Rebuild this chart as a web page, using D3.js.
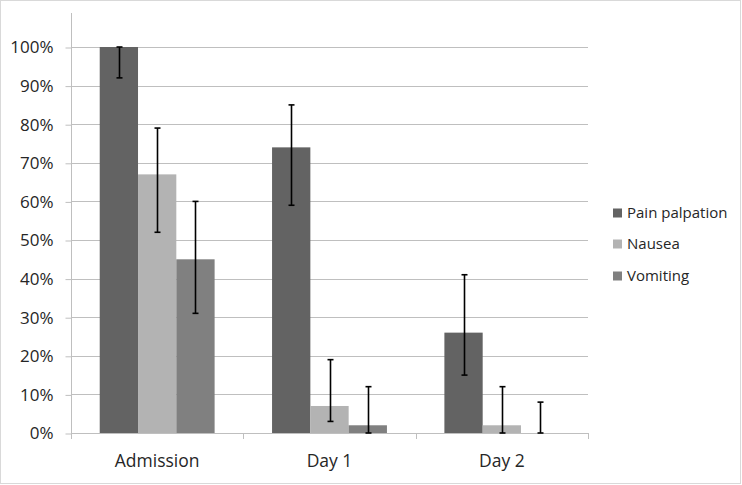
<!DOCTYPE html>
<html><head><meta charset="utf-8">
<script src="https://cdn.jsdelivr.net/npm/d3@7"></script>
<style>body{margin:0;background:#fff;}svg{display:block;}</style>
</head><body>
<script>
const categories = ["Admission", "Day 1", "Day 2"];
const seriesNames = ["Pain palpation", "Nausea", "Vomiting"];
const painValues = [100, 74, 26];
const nauseaValues = [67, 7, 2];
const vomitingValues = [45, 2, 0];
const painErrLow = [92, 59, 15];
const painErrHigh = [100, 85, 41];
const nauseaErrLow = [52, 3, 0];
const nauseaErrHigh = [79, 19, 12];
const vomitingErrLow = [31, 0, 0];
const vomitingErrHigh = [60, 12, 8];
const yTicks = [0, 10, 20, 30, 40, 50, 60, 70, 80, 90, 100];
const colors = ["#636363", "#b3b3b3", "#808080"];

const series = [
  {name: seriesNames[0], values: painValues, lo: painErrLow, hi: painErrHigh, color: colors[0]},
  {name: seriesNames[1], values: nauseaValues, lo: nauseaErrLow, hi: nauseaErrHigh, color: colors[1]},
  {name: seriesNames[2], values: vomitingValues, lo: vomitingErrLow, hi: vomitingErrHigh, color: colors[2]}
];

const W = 742, H = 485;
const left = 71, right = 588, top0 = 47, bottom = 433;
const font = "Open Sans, sans-serif";
const txt = "#262626";
const svg = d3.select("body").append("svg").attr("width", W).attr("height", H);
svg.append("rect").attr("x", 0.5).attr("y", 0.5).attr("width", W - 2).attr("height", H - 2)
  .attr("fill", "#fff").attr("stroke", "#d9d9d9");

const y = d3.scaleLinear().domain([0, 100]).range([bottom, top0]);
const x0 = d3.scaleBand().domain(categories).range([left, right]).paddingInner(0).paddingOuter(0);
const x1 = d3.scaleBand().domain(seriesNames).range([0, x0.bandwidth()]).paddingInner(0).paddingOuter(0.75);

// gridlines
svg.append("g").selectAll("line").data(yTicks.filter(d => d > 0)).join("line")
  .attr("x1", left).attr("x2", right).attr("y1", d => Math.round(y(d)) + 0.5).attr("y2", d => Math.round(y(d)) + 0.5)
  .attr("stroke", "#bfbfbf").attr("stroke-width", 1);

// y axis
const yAxis = d3.axisLeft(y).tickValues(yTicks).tickFormat(d => d + "%").tickSize(6).tickPadding(12);
const ga = svg.append("g").attr("transform", `translate(${left + 0.5},0.5)`).call(yAxis);
ga.select(".domain").remove();
ga.selectAll(".tick line").attr("stroke", "#bfbfbf");
ga.selectAll(".tick text").attr("font-family", font).attr("font-size", 17).attr("fill", txt);
svg.append("line").attr("x1", left + 0.5).attr("x2", left + 0.5).attr("y1", 13).attr("y2", bottom)
  .attr("stroke", "#bfbfbf");

// bars
const groups = svg.append("g").selectAll("g").data(series).join("g").attr("fill", d => d.color);
groups.selectAll("rect").data(s => categories.map((c, i) => ({c, v: s.values[i], s: s.name}))).join("rect")
  .attr("x", d => x0(d.c) + x1(d.s)).attr("width", x1.bandwidth())
  .attr("y", d => y(d.v)).attr("height", d => bottom - y(d.v));

// x axis
svg.append("line").attr("x1", left).attr("x2", right).attr("y1", bottom + 0.5).attr("y2", bottom + 0.5).attr("stroke", "#bfbfbf");
const bounds = categories.map(c => x0(c)).concat([right]);
svg.append("g").selectAll("line").data(bounds).join("line")
  .attr("x1", d => Math.round(d) + 0.5).attr("x2", d => Math.round(d) + 0.5).attr("y1", bottom).attr("y2", bottom + 6)
  .attr("stroke", "#bfbfbf");
svg.append("g").selectAll("text").data(categories).join("text")
  .attr("x", d => x0(d) + x0.bandwidth() / 2).attr("y", 467).attr("text-anchor", "middle")
  .attr("font-family", font).attr("font-size", 17.5).attr("fill", txt).text(d => d);

// error bars
const eg = svg.append("g").attr("stroke", "#000").attr("stroke-width", 1.6);
series.forEach(s => {
  categories.forEach((c, i) => {
    const cx = Math.round(x0(c) + x1(s.name) + x1.bandwidth() / 2) + 0.5;
    eg.append("line").attr("x1", cx).attr("x2", cx).attr("y1", y(s.hi[i])).attr("y2", y(s.lo[i]));
    [s.hi[i], s.lo[i]].forEach(v => {
      eg.append("line").attr("x1", cx - 3).attr("x2", cx + 3).attr("y1", y(v)).attr("y2", y(v));
    });
  });
});

// legend
const legendY = [213, 244, 276];
const lg = svg.append("g").selectAll("g").data(series).join("g")
  .attr("transform", (d, i) => `translate(613,${legendY[i]})`);
lg.append("rect").attr("x", 0).attr("y", -4.5).attr("width", 9).attr("height", 9).attr("fill", d => d.color);
lg.append("text").attr("x", 14).attr("y", 0).attr("dy", "0.35em")
  .attr("font-family", font).attr("font-size", 15).attr("fill", txt).text(d => d.name);
</script>
</body></html>
